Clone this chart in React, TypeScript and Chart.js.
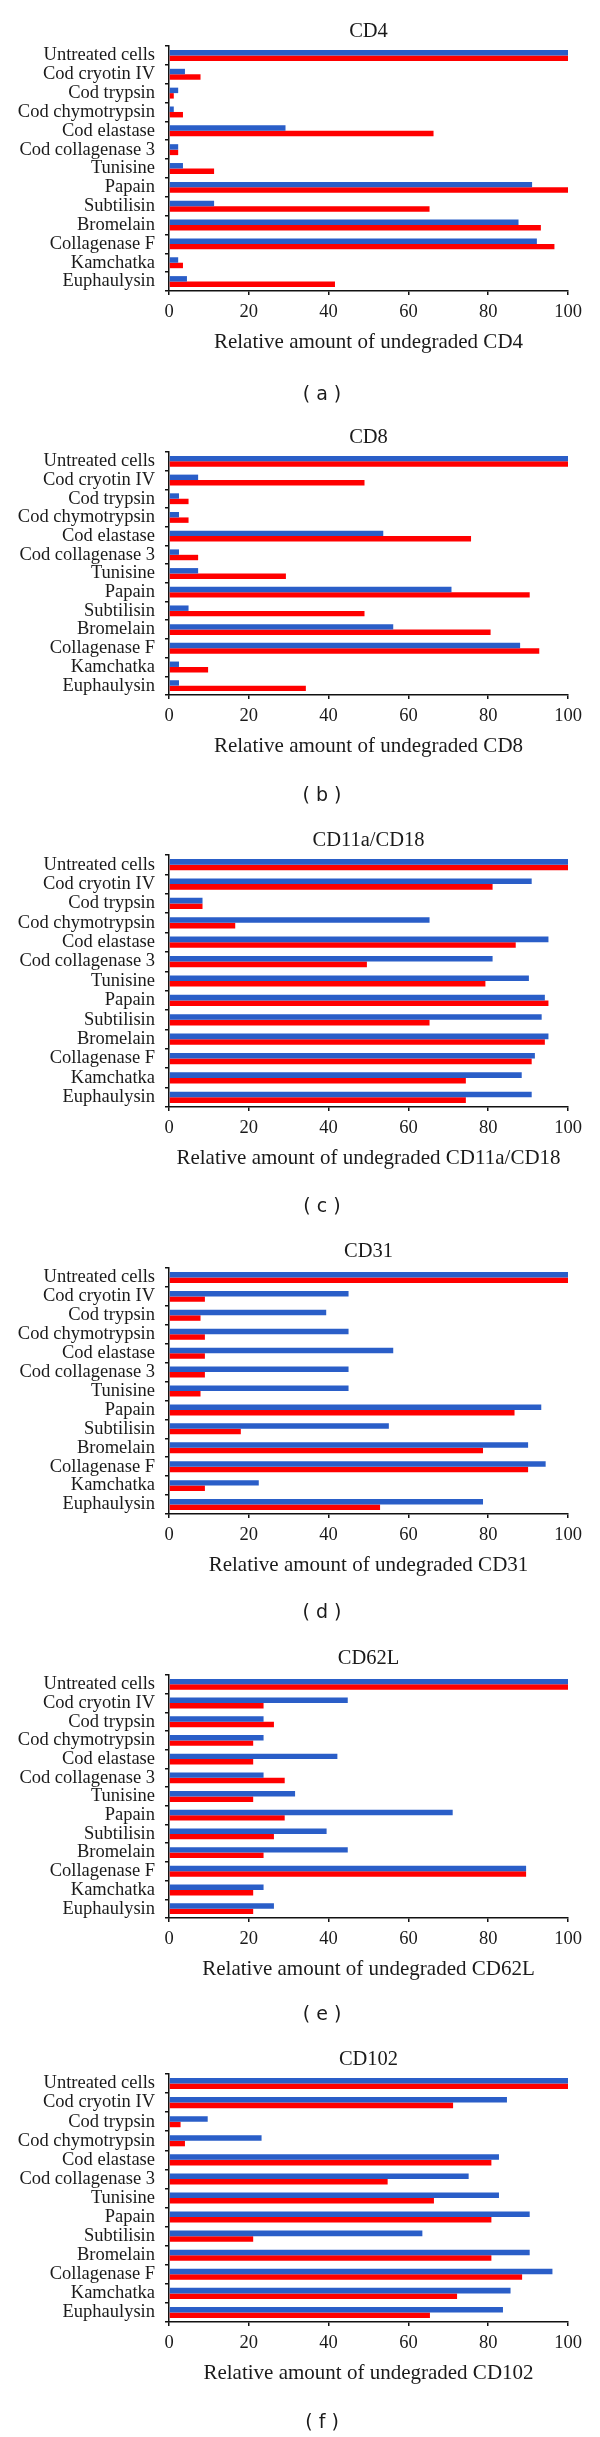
import React, { useEffect, useRef } from 'react';
import { Chart, registerables } from 'chart.js';

Chart.register(...registerables);

// ---------- data ----------
const categories = [
  'Untreated cells',
  'Cod cryotin IV',
  'Cod trypsin',
  'Cod chymotrypsin',
  'Cod elastase',
  'Cod collagenase 3',
  'Tunisine',
  'Papain',
  'Subtilisin',
  'Bromelain',
  'Collagenase F',
  'Kamchatka',
  'Euphaulysin',
];

const xTickValues = [0, 20, 40, 60, 80, 100];

const cd4Blue = [100, 4.0, 2.3, 1.2, 29.2, 2.3, 3.5, 91.0, 11.3, 87.6, 92.2, 2.3, 4.5];
const cd4Red = [100, 7.9, 1.2, 3.5, 66.3, 2.3, 11.3, 100, 65.3, 93.2, 96.6, 3.5, 41.6];

const cd8Blue = [100, 7.3, 2.5, 2.5, 53.7, 2.5, 7.3, 70.8, 4.9, 56.2, 88.0, 2.5, 2.5];
const cd8Red = [100, 49.0, 4.9, 4.9, 75.7, 7.3, 29.3, 90.4, 49.0, 80.6, 92.8, 9.8, 34.3];

const cd11Blue = [100, 90.9, 8.4, 65.3, 95.1, 81.1, 90.2, 94.2, 93.4, 95.1, 91.7, 88.4, 90.9];
const cd11Red = [100, 81.1, 8.4, 16.6, 86.9, 49.6, 79.3, 95.1, 65.3, 94.2, 90.9, 74.4, 74.4];

const cd31Blue = [100, 45.0, 39.4, 45.0, 56.2, 45.0, 45.0, 93.3, 55.1, 90.0, 94.4, 22.5, 78.7];
const cd31Red = [100, 9.0, 7.9, 9.0, 9.0, 9.0, 7.9, 86.6, 18.0, 78.7, 90.0, 9.0, 52.9];

const cd62Blue = [100, 44.8, 23.7, 23.7, 42.2, 23.7, 31.6, 71.1, 39.5, 44.8, 89.5, 23.7, 26.3];
const cd62Red = [100, 23.7, 26.3, 21.1, 21.1, 29.0, 21.1, 29.0, 26.3, 23.7, 89.5, 21.1, 21.1];

const cd102Blue = [100, 84.7, 9.7, 23.2, 82.7, 75.1, 82.7, 90.4, 63.5, 90.4, 96.1, 85.6, 83.7];
const cd102Red = [100, 71.2, 2.9, 4.0, 80.8, 54.8, 66.4, 80.8, 21.1, 80.8, 88.5, 72.2, 65.4];

const panelTitles = ['CD4', 'CD8', 'CD11a/CD18', 'CD31', 'CD62L', 'CD102'];
const panelLetters = ['( a )', '( b )', '( c )', '( d )', '( e )', '( f )'];
const blueSeries = [cd4Blue, cd8Blue, cd11Blue, cd31Blue, cd62Blue, cd102Blue];
const redSeries = [cd4Red, cd8Red, cd11Red, cd31Red, cd62Red, cd102Red];

// ---------- layout / style ----------
const PANEL_HEIGHTS = [406, 406, 406, 406, 406, 407];
const PLOT_TOPS = [46, 46, 43, 50, 51, 44];
const PLOT_BOTTOMS = [291, 289, 295, 296, 294, 292];
const TITLE_GAPS = [14, 14, 14, 16, 16, 14];
const LETTER_YS = [395, 390, 395, 395, 391, 393];
const PLOT_LEFT = 169;
const PLOT_RIGHT_PAD = 32;
const LETTER_X = 322;

const BLUE = '#2a5ec8';
const RED = '#ff0000';
const TEXT = '#1a1a1a';
const AXIS = '#111111';
const SERIF = '"Liberation Serif", "Times New Roman", serif';
const SANS = '"DejaVu Sans", sans-serif';

const panelTextPlugin = {
  id: 'panelText',
  afterDraw(chart: any, _args: any, opts: any) {
    const { ctx, chartArea } = chart;
    ctx.save();
    ctx.fillStyle = TEXT;
    ctx.textAlign = 'center';
    ctx.textBaseline = 'middle';
    ctx.font = `20.5px ${SERIF}`;
    ctx.fillText(opts.title, (chartArea.left + chartArea.right) / 2, chartArea.top - opts.titleGap);
    ctx.font = `19px ${SANS}`;
    ctx.fillText(opts.letter, opts.letterX, opts.letterY);
    ctx.restore();
  },
};

function BarPanel({ index }: { index: number }) {
  const ref = useRef<HTMLCanvasElement | null>(null);
  const H = PANEL_HEIGHTS[index];
  useEffect(() => {
    if (!ref.current) return;
    const top = PLOT_TOPS[index];
    const bottom = PLOT_BOTTOMS[index];
    const chart = new Chart(ref.current, {
      type: 'bar',
      data: {
        labels: categories,
        datasets: [
          {
            data: blueSeries[index],
            backgroundColor: BLUE,
            borderWidth: 0,
            categoryPercentage: 0.58,
            barPercentage: 1,
          },
          {
            data: redSeries[index],
            backgroundColor: RED,
            borderWidth: 0,
            categoryPercentage: 0.58,
            barPercentage: 1,
          },
        ],
      },
      options: {
        indexAxis: 'y',
        animation: false,
        responsive: false,
        events: [],
        layout: { padding: { left: 0, right: PLOT_RIGHT_PAD, top, bottom: 0 } },
        plugins: {
          legend: { display: false },
          tooltip: { enabled: false },
          title: { display: false },
          panelText: {
            title: panelTitles[index],
            letter: panelLetters[index],
            titleGap: TITLE_GAPS[index],
            letterX: LETTER_X,
            letterY: LETTER_YS[index],
          },
        } as any,
        scales: {
          x: {
            type: 'linear',
            min: 0,
            max: 100,
            afterBuildTicks: (scale: any) => {
              scale.ticks = xTickValues.map((v) => ({ value: v }));
            },
            ticks: {
              font: { family: SERIF, size: 18.5 },
              color: TEXT,
              padding: 6,
              maxRotation: 0,
            },
            grid: {
              drawOnChartArea: false,
              drawTicks: true,
              tickLength: 4,
              color: AXIS,
              lineWidth: 1.5,
            },
            border: { display: true, color: AXIS, width: 1.5 },
            title: {
              display: true,
              text: 'Relative amount of undegraded ' + panelTitles[index],
              font: { family: SERIF, size: 21 },
              color: TEXT,
              padding: { top: 0, bottom: H - bottom - 51 - 12.6 },
            },
            afterFit: (scale: any) => {
              scale.height = H - bottom;
            },
          },
          y: {
            type: 'category',
            ticks: {
              autoSkip: false,
              font: { family: SERIF, size: 18.5 },
              color: TEXT,
              padding: 10,
            },
            grid: {
              drawOnChartArea: false,
              drawTicks: true,
              tickLength: 4,
              color: AXIS,
              lineWidth: 1.5,
              offset: true,
            },
            border: { display: true, color: AXIS, width: 1.5 },
            afterFit: (scale: any) => {
              scale.width = PLOT_LEFT;
            },
          },
        },
      } as any,
      plugins: [panelTextPlugin],
    });
    return () => chart.destroy();
  }, [index, H]);
  return (
    <canvas
      ref={ref}
      width={600}
      height={H}
      style={{ display: 'block', width: 600, height: H }}
    />
  );
}

export default function App() {
  return (
    <div style={{ width: 600, background: '#ffffff' }}>
      <style>{`body{margin:0;background:#fff;}`}</style>
      {panelTitles.map((_, i) => (
        <BarPanel key={i} index={i} />
      ))}
    </div>
  );
}
